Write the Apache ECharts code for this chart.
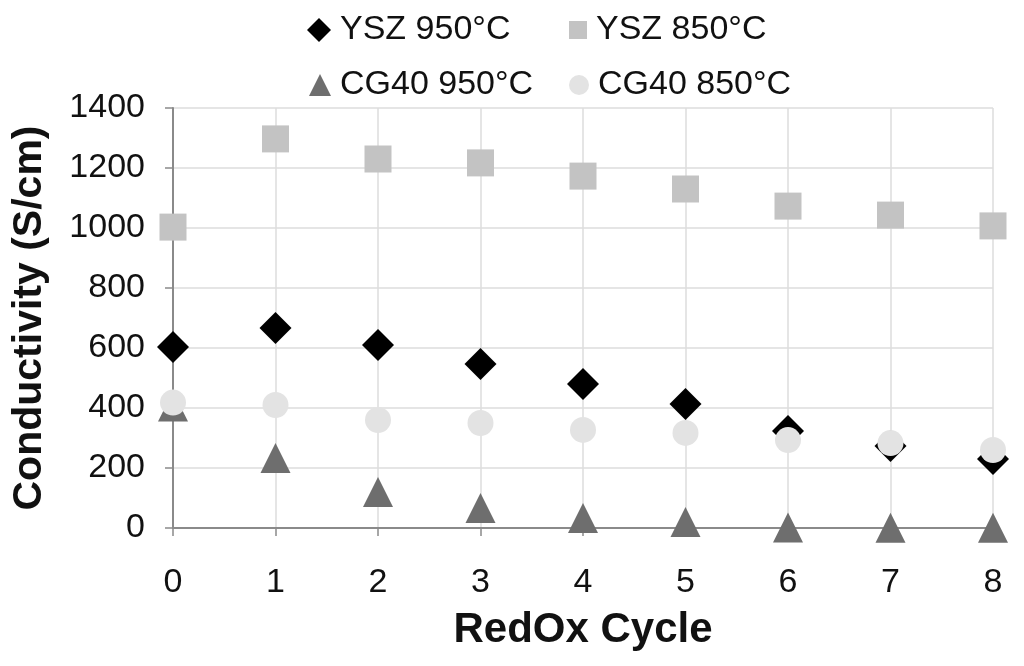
<!DOCTYPE html>
<html>
<head>
<meta charset="utf-8">
<script src="https://cdn.jsdelivr.net/npm/echarts@6/dist/echarts.min.js"></script>
<style>html,body{margin:0;padding:0;background:#fff;}#c{width:1024px;height:666px;}</style>
</head>
<body>
<div id="c"></div>
<script>
const cycles = [0, 1, 2, 3, 4, 5, 6, 7, 8];
const ysz950 = [603, 667, 610, 547, 480, 413, 323, 273, 230];
const ysz850 = [1003, 1297, 1230, 1217, 1173, 1130, 1073, 1043, 1007];
const cg950 = [405, 233, 120, 67, 33, 20, 2, 1, 1];
const cg850 = [418, 410, 360, 350, 327, 317, 293, 283, 260];
const seriesNames = ['YSZ 950°C', 'YSZ 850°C', 'CG40 950°C', 'CG40 850°C'];

const font = 'Liberation Sans, Arial, sans-serif';
const pair = (arr) => cycles.map((c, i) => [c, arr[i]]);

const chart = echarts.init(document.getElementById('c'));
const legendText = { fontSize: 34, color: '#111', fontFamily: font, padding: [0, 0, 0, 4] };
function lg(name, left, top, w, h) {
  return { data: [name], left: left, top: top, itemWidth: w, itemHeight: h, textStyle: legendText, selectedMode: false, padding: 0 };
}
chart.setOption({
  animation: false,
  backgroundColor: '#fff',
  legend: [
    lg(seriesNames[0], 307, 13, 24, 24),
    lg(seriesNames[1], 569, 13, 18, 18),
    lg(seriesNames[2], 309, 68, 22, 22),
    lg(seriesNames[3], 569, 68, 20, 20)
  ],
  grid: { left: 173, right: 31, top: 108, bottom: 138, containLabel: false, outerBoundsMode: 'none' },
  xAxis: {
    type: 'value', min: 0, max: 8, interval: 1,
    name: 'RedOx Cycle', nameLocation: 'middle', nameGap: 81,
    nameTextStyle: { fontSize: 42, fontWeight: 'bold', color: '#111', fontFamily: font },
    axisLine: { show: true, onZero: false, lineStyle: { color: '#8a8a8a', width: 2 } },
    axisTick: { show: true, length: 8, lineStyle: { color: '#8a8a8a', width: 1.5 } },
    axisLabel: { fontSize: 34, color: '#111', fontFamily: font, margin: 38 },
    splitLine: { show: true, lineStyle: { color: '#dcdcdc', width: 1.5 } }
  },
  yAxis: {
    type: 'value', min: 0, max: 1400, interval: 200,
    name: 'Conductivity (S/cm)', nameLocation: 'middle', nameGap: 123, nameRotate: 90,
    nameTextStyle: { fontSize: 41, fontWeight: 'bold', color: '#111', fontFamily: font },
    axisLine: { show: true, lineStyle: { color: '#8a8a8a', width: 2 } },
    axisTick: { show: true, length: 8, lineStyle: { color: '#8a8a8a', width: 1.5 } },
    axisLabel: { fontSize: 34, color: '#111', fontFamily: font, margin: 28, formatter: (v) => String(v) },
    splitLine: { show: true, lineStyle: { color: '#dcdcdc', width: 1.5 } }
  },
  series: [
    { name: seriesNames[0], type: 'scatter', symbol: 'diamond', symbolSize: 32, data: pair(ysz950), itemStyle: { color: '#000', opacity: 1 } },
    { name: seriesNames[1], type: 'scatter', symbol: 'rect', symbolSize: 27, data: pair(ysz850), itemStyle: { color: '#c3c3c3', opacity: 1 } },
    { name: seriesNames[2], type: 'scatter', symbol: 'triangle', symbolSize: 30, data: pair(cg950), itemStyle: { color: '#6e6e6e', opacity: 1 } },
    { name: seriesNames[3], type: 'scatter', symbol: 'circle', symbolSize: 26, data: pair(cg850), itemStyle: { color: '#e3e3e3', opacity: 1 } }
  ]
});
</script>
</body>
</html>
